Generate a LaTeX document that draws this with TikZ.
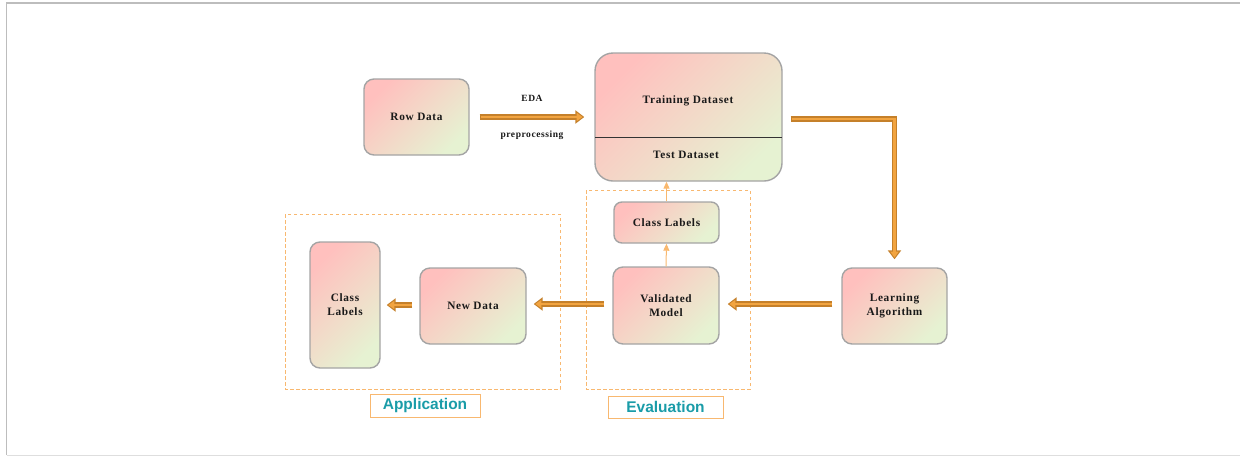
\documentclass[tikz,border=0pt]{standalone}
\usepackage{fontspec}
\setmainfont{Liberation Serif}
\newfontfamily\boxfont[LetterSpace=6]{Liberation Serif}
\newfontfamily\tagfont{Liberation Sans}
\usetikzlibrary{arrows.meta,positioning}

\definecolor{boxline}{HTML}{A4A4A4}
\definecolor{shadeA}{HTML}{FFC0BE}
\definecolor{shadeB}{HTML}{F6DFC8}
\definecolor{shadeC}{HTML}{E6F2D2}
\definecolor{arrowdark}{HTML}{C5802A}
\definecolor{arrowlight}{HTML}{F2A440}
\definecolor{thinorange}{HTML}{F9B86E}
\definecolor{dashorange}{HTML}{F8B870}
\definecolor{tagteal}{HTML}{1A9CA8}
\definecolor{frame}{HTML}{BDBDBD}

\tikzset{
  x=1pt, y=-1pt,
  boxtext/.style={font=\boxfont\bfseries\fontsize{11.3}{14}\selectfont, text=black!90},
  stage/.style={draw=boxline, line width=1.4pt, rounded corners=10pt,
    top color=shadeA, middle color=shadeB, bottom color=shadeC, shading angle=45,
    align=center, boxtext, inner sep=0pt},
  % hollow-looking thick arrow: dark body, lighter core; #1/#2 = start/end gaps
  fatarrow/.style 2 args={draw=arrowdark, line width=5.5pt,
    -{Triangle[length=9pt,width=13pt]}, shorten <=#1, shorten >=#2,
    postaction={draw=arrowlight, line width=2.6pt,
      -{Triangle[length=6pt,width=8pt]}, shorten <=#1+0.8pt, shorten >=#2+1.7pt}},
  thinarrow/.style={draw=thinorange, line width=1pt,
    -{Triangle[length=7pt,width=6pt]}},
  group/.style={draw=dashorange, line width=0.9pt, dash pattern=on 3.5pt off 2.5pt},
  tagbox/.style={draw=dashorange, line width=0.9pt, fill=white,
    font=\tagfont\bfseries\fontsize{15.5}{18}\selectfont, text=tagteal,
    inner sep=0pt},
  edgetext/.style={font=\boxfont\bfseries\fontsize{9.5}{11}\selectfont, text=black!90}
}

\begin{document}
\begin{tikzpicture}
\useasboundingbox (0,0) rectangle (1240,456);
% outer frame
\draw[frame, line width=1.2pt] (6.5,455) -- (6.5,3) -- (1250,3);
\draw[frame!50, line width=1pt] (6.5,455) -- (1250,455);

% dashed groups and their tags
\draw[group] (285,214) rectangle (560,389);
\draw[group] (586,190) rectangle (750,389);
\node[tagbox, minimum width=110pt, minimum height=23pt] (apptag) at (425,405.5) {Application};
\node[tagbox, minimum width=115pt, minimum height=22pt] (evaltag) at (665.5,407) {Evaluation};

% stages
\node[stage, minimum width=105pt, minimum height=76pt] (row) at (416.5,117) {Row Data};
\node[stage, rounded corners=18pt, minimum width=187pt, minimum height=128pt] (train) at (688.5,117) {};
\draw[black!80, line width=0.8pt] (595,137) -- (782,137);
\node[boxtext] (traintxt) at (688,101) {Training Dataset};
\node[boxtext] (testtxt) at (686,155) {Test Dataset};
\node[stage, minimum width=105pt, minimum height=76pt] (learn) at (894.5,306) {Learning\\Algorithm};
\node[stage, minimum width=106pt, minimum height=77pt] (valid) at (666,305.5) {Validated\\Model};
\node[stage, rounded corners=8pt, minimum width=105pt, minimum height=41pt] (evlabels) at (666.5,222.5) {Class Labels};
\node[stage, minimum width=106pt, minimum height=76pt] (newdata) at (473,306) {New Data};
\node[stage, minimum width=70pt, minimum height=126pt] (applabels) at (345,305) {Class\\Labels};

% connectors
\draw[fatarrow={10pt}{10pt}] (row) -- (train)
  node[edgetext, pos=0.5, above=9pt] (eda) {EDA}
  node[edgetext, pos=0.5, below=8pt] (prep) {preprocessing};
\draw[fatarrow={8pt}{8pt}] ([yshift=-2pt]train.east) -| (learn.north);
\draw[fatarrow={9pt}{8pt}] ([yshift=2pt]learn.west) -- ([yshift=1.5pt]valid.east);
\draw[fatarrow={8pt}{7pt}] ([yshift=1.5pt]valid.west) -- ([yshift=2pt]newdata.east);
\draw[fatarrow={7pt}{6pt}] ([yshift=1pt]newdata.west) -- (applabels.east);
\draw[thinarrow] (valid.north) -- (evlabels.south);
\draw[thinarrow] (evlabels.north) -- (evlabels.north |- train.south);
\end{tikzpicture}
\end{document}
